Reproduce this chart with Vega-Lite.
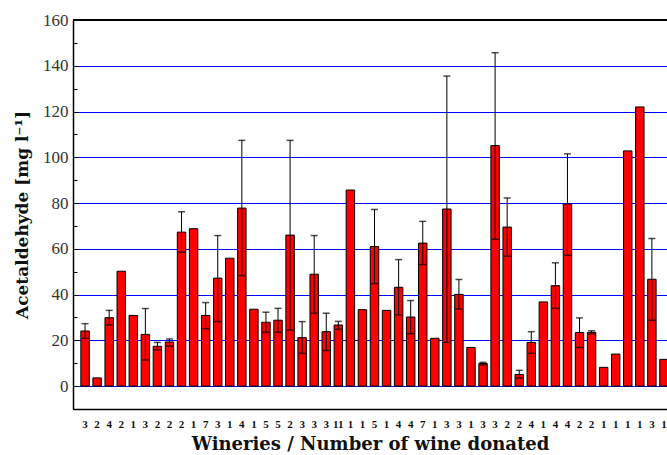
{
  "$schema": "https://vega.github.io/schema/vega-lite/v6.json",
  "width": 594,
  "height": 389,
  "autosize": {"type": "none"},
  "padding": {"left": 73, "top": 20, "right": 0, "bottom": 46},
  "background": "white",
  "config": {
    "view": {"stroke": null},
    "font": "Liberation Serif"
  },
  "data": {
    "values": [
      {"winery": "W01/3", "mean": 24.1, "lo": 20.9, "hi": 27.3},
      {"winery": "W02/2", "mean": 3.6, "lo": null, "hi": null},
      {"winery": "W03/4", "mean": 29.9, "lo": 26.7, "hi": 33.1},
      {"winery": "W04/2", "mean": 50.2, "lo": null, "hi": null},
      {"winery": "W05/1", "mean": 30.9, "lo": null, "hi": null},
      {"winery": "W06/3", "mean": 22.6, "lo": 11.4, "hi": 33.9},
      {"winery": "W07/2", "mean": 17.4, "lo": 15.8, "hi": 19.1},
      {"winery": "W08/2", "mean": 19.3, "lo": 17.5, "hi": 20.6},
      {"winery": "W09/2", "mean": 67.3, "lo": 58.5, "hi": 76.2},
      {"winery": "W10/1", "mean": 68.8, "lo": null, "hi": null},
      {"winery": "W11/7", "mean": 30.9, "lo": 25.1, "hi": 36.5},
      {"winery": "W12/3", "mean": 47.2, "lo": 28.2, "hi": 65.8},
      {"winery": "W13/1", "mean": 55.9, "lo": null, "hi": null},
      {"winery": "W14/4", "mean": 77.8, "lo": 48.3, "hi": 107.4},
      {"winery": "W15/1", "mean": 33.6, "lo": null, "hi": null},
      {"winery": "W16/5", "mean": 27.9, "lo": 23.5, "hi": 32.3},
      {"winery": "W17/5", "mean": 28.8, "lo": 23.5, "hi": 34.0},
      {"winery": "W18/2", "mean": 66.0, "lo": 24.5, "hi": 107.4},
      {"winery": "W19/3", "mean": 21.2, "lo": 14.3, "hi": 28.2},
      {"winery": "W20/3", "mean": 48.9, "lo": 31.8, "hi": 65.8},
      {"winery": "W21/3", "mean": 23.8, "lo": 15.6, "hi": 31.8},
      {"winery": "W22/11", "mean": 26.7, "lo": 24.8, "hi": 28.3},
      {"winery": "W23/1", "mean": 85.7, "lo": null, "hi": null},
      {"winery": "W24/1", "mean": 33.4, "lo": null, "hi": null},
      {"winery": "W25/5", "mean": 61.0, "lo": 44.8, "hi": 77.2},
      {"winery": "W26/1", "mean": 33.1, "lo": null, "hi": null},
      {"winery": "W27/4", "mean": 43.2, "lo": 31.1, "hi": 55.3},
      {"winery": "W28/4", "mean": 30.2, "lo": 22.9, "hi": 37.4},
      {"winery": "W29/7", "mean": 62.5, "lo": 53.1, "hi": 72.0},
      {"winery": "W30/1", "mean": 20.9, "lo": null, "hi": null},
      {"winery": "W31/3", "mean": 77.4, "lo": 19.1, "hi": 135.5},
      {"winery": "W32/3", "mean": 40.1, "lo": 33.7, "hi": 46.6},
      {"winery": "W33/1", "mean": 16.9, "lo": null, "hi": null},
      {"winery": "W34/3", "mean": 9.9, "lo": 9.3, "hi": 10.4},
      {"winery": "W35/3", "mean": 105.1, "lo": 64.2, "hi": 145.7},
      {"winery": "W36/2", "mean": 69.5, "lo": 56.8, "hi": 82.2},
      {"winery": "W37/2", "mean": 5.1, "lo": 3.5, "hi": 6.9},
      {"winery": "W38/4", "mean": 19.1, "lo": 14.3, "hi": 23.8},
      {"winery": "W39/1", "mean": 36.8, "lo": null, "hi": null},
      {"winery": "W40/4", "mean": 43.9, "lo": 34.0, "hi": 53.9},
      {"winery": "W41/4", "mean": 79.6, "lo": 57.2, "hi": 101.5},
      {"winery": "W42/2", "mean": 23.4, "lo": 16.9, "hi": 29.8},
      {"winery": "W43/2", "mean": 23.5, "lo": 22.8, "hi": 24.2},
      {"winery": "W44/1", "mean": 8.2, "lo": null, "hi": null},
      {"winery": "W45/1", "mean": 14.0, "lo": null, "hi": null},
      {"winery": "W46/1", "mean": 102.8, "lo": null, "hi": null},
      {"winery": "W47/1", "mean": 122.0, "lo": null, "hi": null},
      {"winery": "W48/3", "mean": 46.7, "lo": 28.8, "hi": 64.5},
      {"winery": "W49/1", "mean": 11.7, "lo": null, "hi": null}
    ]
  },
  "resolve": {"axis": {"y": "independent"}},
  "layer": [
    {
      "mark": {"type": "bar", "fill": "#ff0000", "stroke": "black", "strokeWidth": 1},
      "encoding": {
        "x": {
          "field": "winery",
          "type": "nominal",
          "sort": null,
          "scale": {"range": [0, 603], "paddingInner": 0.3, "paddingOuter": 0.65},
          "axis": {
            "title": "Wineries / Number of wine donated",
            "titleFont": "DejaVu Serif",
            "titleFontSize": 18,
            "titleFontWeight": "bold",
            "titleColor": "#111",
            "titlePadding": 6,
            "titleX": 297,
            "labelExpr": "split(datum.value, '/')[1]",
            "labelAngle": 0,
            "labelFont": "Liberation Serif",
            "labelFontSize": 11,
            "labelFontWeight": "bold",
            "labelColor": "#111",
            "labelPadding": 9,
            "ticks": false,
            "domainColor": "black",
            "domainWidth": 1.5,
            "grid": false
          }
        },
        "y": {
          "field": "mean",
          "type": "quantitative",
          "scale": {"domain": [-10, 160], "nice": false, "zero": false},
          "axis": {
            "orient": "left",
            "title": "Acetaldehyde [mg l⁻¹]",
            "titleFont": "DejaVu Serif",
            "titleFontSize": 17,
            "titleFontWeight": "bold",
            "titleColor": "#111",
            "titlePadding": 11,
            "values": [0, 20, 40, 60, 80, 100, 120, 140, 160],
            "labelFont": "Liberation Serif",
            "labelFontSize": 17,
            "labelColor": "#333",
            "labelPadding": 9,
            "tickSize": -4,
            "tickColor": "black",
            "tickWidth": 1,
            "domainColor": "black",
            "domainWidth": 1.5,
            "grid": true,
            "gridWidth": 1,
            "gridColor": "#0000ff"
          }
        }
      }
    },
    {
      "transform": [{"filter": "datum.hi != null"}],
      "mark": {"type": "rule", "color": "black", "strokeWidth": 1},
      "encoding": {
        "x": {"field": "winery", "type": "nominal", "sort": null},
        "y": {
          "field": "lo",
          "type": "quantitative",
          "axis": {
            "orient": "left",
            "title": null,
            "values": [-10, 10, 30, 50, 70, 90, 110, 130, 150],
            "labels": false,
            "domain": false,
            "grid": false,
            "tickSize": -4,
            "tickColor": "black",
            "tickWidth": 1
          }
        },
        "y2": {"field": "hi"}
      }
    },
    {
      "transform": [{"filter": "datum.hi != null"}],
      "mark": {"type": "tick", "color": "black", "size": 7, "thickness": 1.5, "orient": "horizontal"},
      "encoding": {
        "x": {"field": "winery", "type": "nominal", "sort": null},
        "y": {"field": "lo", "type": "quantitative", "axis": null}
      }
    },
    {
      "transform": [{"filter": "datum.hi != null"}],
      "mark": {"type": "tick", "color": "black", "size": 7, "thickness": 1.5, "orient": "horizontal"},
      "encoding": {
        "x": {"field": "winery", "type": "nominal", "sort": null},
        "y": {"field": "hi", "type": "quantitative", "axis": null}
      }
    },
    {
      "mark": {"type": "rule", "color": "black", "strokeWidth": 1.5},
      "encoding": {"y": {"datum": 160, "axis": null}}
    }
  ]
}
